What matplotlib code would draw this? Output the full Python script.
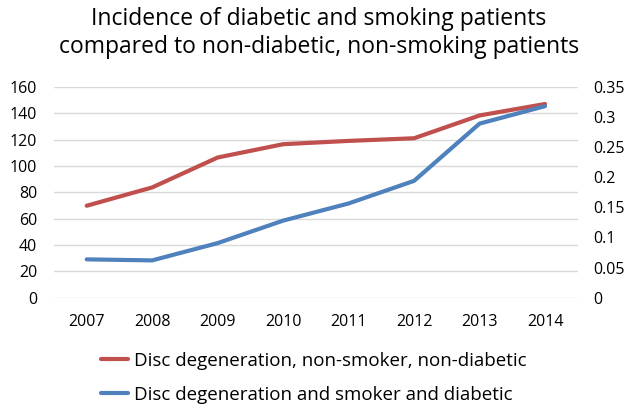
import matplotlib.pyplot as plt

years = ['2007', '2008', '2009', '2010', '2011', '2012', '2013', '2014']
non_smoker = [69.8, 83.7, 106.4, 116.5, 119, 121, 138.3, 147]
smoker_diabetic = [0.0637, 0.062, 0.0907, 0.128, 0.1565, 0.194, 0.289, 0.318]
left_ticks = [0, 20, 40, 60, 80, 100, 120, 140, 160]
right_ticks = [0, 0.05, 0.1, 0.15, 0.2, 0.25, 0.3, 0.35]
right_labels = ['0', '0.05', '0.1', '0.15', '0.2', '0.25', '0.3', '0.35']

plt.rcParams['font.family'] = ['Open Sans', 'DejaVu Sans']

fig = plt.figure(figsize=(6.38, 4.04), dpi=100)
ax = fig.add_axes([0.0846, 0.263, 0.821, 0.522])
ax2 = ax.twinx()

x = range(len(years))
l1, = ax.plot(x, non_smoker, color='#c0504d', lw=3, solid_capstyle='round',
              label='Disc degeneration, non-smoker, non-diabetic')
l2, = ax2.plot(x, smoker_diabetic, color='#4f81bd', lw=3, solid_capstyle='round',
               label='Disc degeneration and smoker and diabetic')

ax.set_xlim(-0.5, len(years) - 0.5)
ax.set_ylim(0, 160)
ax2.set_ylim(0, 0.35)
ax.set_yticks(left_ticks)
ax2.set_yticks(right_ticks)
ax2.set_yticklabels(right_labels)
ax.set_xticks(list(x))
ax.set_xticklabels(years)
ax.grid(axis='y', color='#d9d9d9', lw=1)
ax.set_axisbelow(True)

for a in (ax, ax2):
    for s in a.spines.values():
        s.set_visible(False)
    a.tick_params(length=0, labelsize=11.5, colors='#000000')
ax.tick_params(axis='y', pad=12)
ax2.tick_params(axis='y', pad=11)
ax.tick_params(axis='x', pad=12)

fig.suptitle('Incidence of diabetic and smoking patients\ncompared to non-diabetic, non-smoking patients',
             fontsize=16.5, y=0.982, linespacing=1.2)

fig.legend(handles=[l1, l2], loc='upper left', bbox_to_anchor=(0.147, 0.148),
           frameon=False, fontsize=13.5, handlelength=1.45, handletextpad=0.3,
           labelspacing=0.85, borderaxespad=0)

plt.savefig('out.png', dpi=100)
